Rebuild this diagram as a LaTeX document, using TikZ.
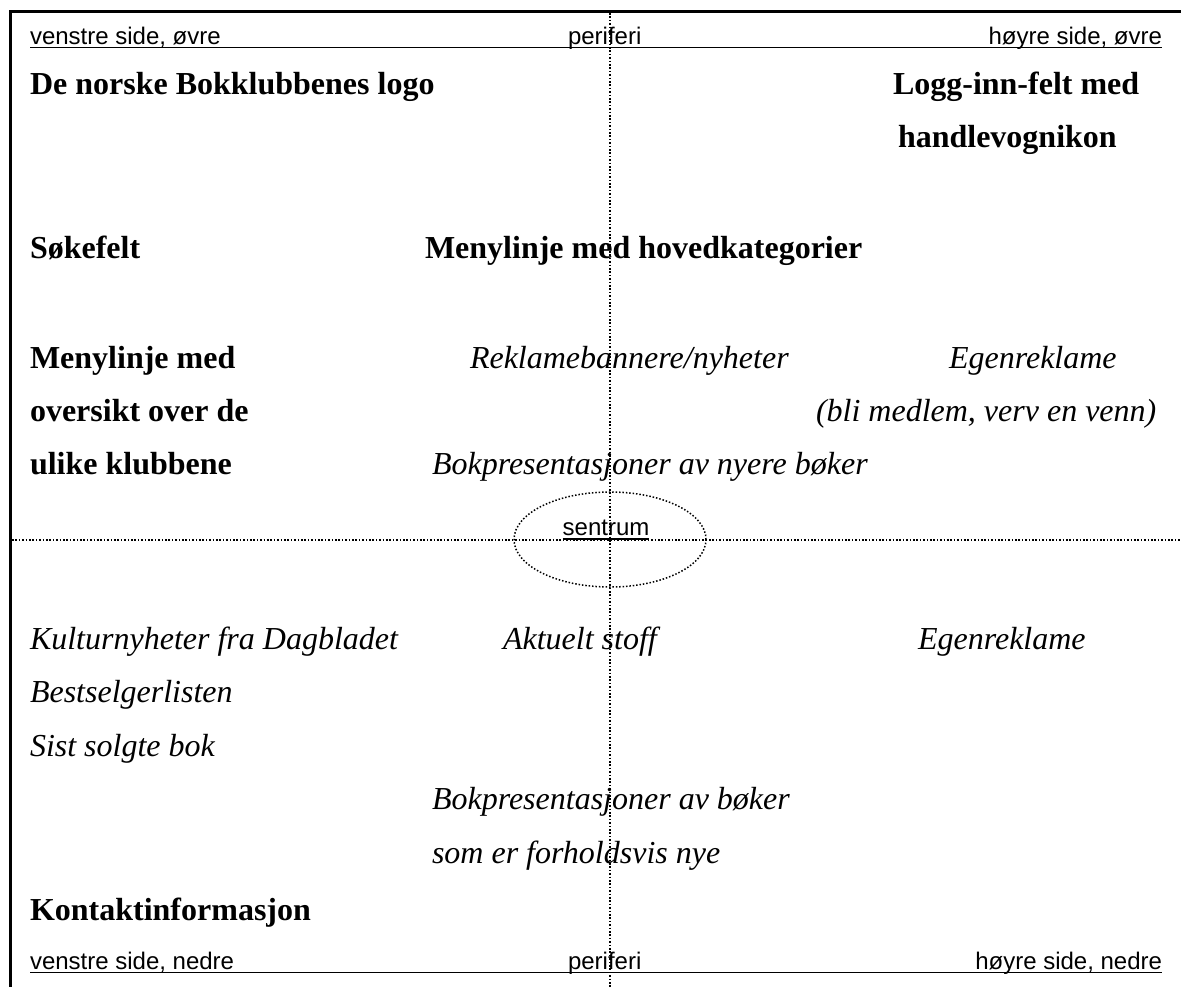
\documentclass[tikz,border=0pt]{standalone}
\usepackage{fontspec}
\setmainfont{Liberation Serif}
\setsansfont{Liberation Sans}
\usetikzlibrary{shapes.geometric}
\begin{document}
\begin{tikzpicture}[x=0.5pt,y=-0.5pt,
  every node/.style={inner sep=0pt,outer sep=0pt},
  cornerlabel/.style={font=\sffamily\fontsize{12}{14}\selectfont},
  head/.style={font=\bfseries\fontsize{16}{19}\selectfont,anchor=base west},
  item/.style={font=\itshape\fontsize{16}{19}\selectfont,anchor=base west},
  frameline/.style={line width=1.2pt},
  rule/.style={line width=0.9pt},
  dotline/.style={line width=0.75pt,dash pattern=on 0.75pt off 0.95pt}]
\useasboundingbox (0,0) rectangle (1181,987);

% page frame (top and left edges)
\coordinate (tl) at (10.5,11.5);
\coordinate (tr) at (1181,11.5);
\coordinate (bl) at (10.5,987);
\draw[frameline] (tr) -- (tl) -- (bl);

% axes through the centre
\coordinate (vtop) at (610,13);
\coordinate (vbot) at (610,987);
\coordinate (hl) at (12,540);
\coordinate (hr) at (1181,540);
\draw[dotline] (vtop) -- (vbot);
\draw[dotline] (hl) -- (hr);
\node[draw,dotline,ellipse,minimum width=96pt,minimum height=47.5pt] (centre) at (610,539.5) {};
\node[cornerlabel,anchor=base] (sentrum) at (606,535) {sentrum};
\draw[rule] (sentrum.base west) ++(0,4) coordinate (su1) -- (sentrum.base east |- su1);

% corner labels, upper
\node[cornerlabel,anchor=base west] (vo) at (30,44) {venstre side, øvre};
\node[cornerlabel,anchor=base west] (po) at (568,44) {periferi};
\node[cornerlabel,anchor=base east] (ho) at (1162,44) {høyre side, øvre};
\coordinate (uo1) at (30,47.5);
\coordinate (uo2) at (1162,47.5);
\draw[rule] (uo1) -- (uo2);

% corner labels, lower
\node[cornerlabel,anchor=base west] (vn) at (30,969) {venstre side, nedre};
\node[cornerlabel,anchor=base west] (pn) at (568,969) {periferi};
\node[cornerlabel,anchor=base east] (hn) at (1162,969) {høyre side, nedre};
\coordinate (un1) at (30,972.5);
\coordinate (un2) at (1162,972.5);
\draw[rule] (un1) -- (un2);

% upper half
\node[head] (logo) at (30,94) {De norske Bokklubbenes logo};
\node[head] (login1) at (893,94) {Logg-inn-felt med};
\node[head] (login2) at (898,147) {handlevognikon};
\node[head] (sok) at (30,258) {Søkefelt};
\node[head] (hovedmeny) at (425,258) {Menylinje med hovedkategorier};
\node[head] (klubb1) at (30,368) {Menylinje med};
\node[head] (klubb2) at (30,421) {oversikt over de};
\node[head] (klubb3) at (30,474) {ulike klubbene};
\node[item] (reklame) at (470,368) {Reklamebannere/nyheter};
\node[item] (egen1) at (949,368) {Egenreklame};
\node[item] (egen2) at (816,421) {(bli medlem, verv en venn)};
\node[item] (nyere) at (432,474) {Bokpresentasjoner av nyere bøker};

% lower half
\node[item] (kultur) at (30,649) {Kulturnyheter fra Dagbladet};
\node[item] (aktuelt) at (503,649) {Aktuelt stoff};
\node[item] (egen3) at (918,649) {Egenreklame};
\node[item] (best) at (30,702) {Bestselgerlisten};
\node[item] (sist) at (30,756) {Sist solgte bok};
\node[item] (bok1) at (432,809) {Bokpresentasjoner av bøker};
\node[item] (bok2) at (432,863) {som er forholdsvis nye};
\node[head] (kontakt) at (30,920) {Kontaktinformasjon};
\end{tikzpicture}
\end{document}
